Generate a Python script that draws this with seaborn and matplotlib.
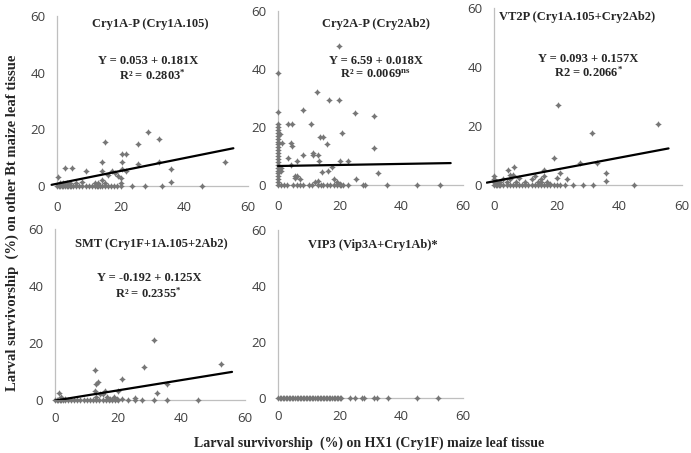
import matplotlib
matplotlib.use("Agg")
import matplotlib.pyplot as plt
import seaborn as sns
import pandas as pd

sns.set_style("white")
plt.rcParams["mathtext.default"] = "regular"

W, H = 691, 453

# ---------------- data ----------------
# Panel 1: Cry1A-P (Cry1A.105)
p1_x = [0, 0.5, 1, 1.5, 2, 2.5, 3, 3.5, 4, 4.5, 5, 6, 7, 8, 9, 10, 11, 12, 12.5, 13, 13.5, 14,
        15, 16, 17, 18, 19, 20, 23.5, 27.7, 32.9, 45.5,
        0.4, 1, 2, 3, 4, 6, 8, 12, 13, 14, 15, 20, 20,
        2.5, 4.8, 9, 14, 15, 14, 17.2, 18.2, 19.3, 20.3, 20.3, 21.7, 21.7, 25.6, 25.6,
        28.7, 31.9, 31.9, 35.8, 35.8, 52.8, 16, 20.3]
p1_y = [0] * 32 + [3.1, 1, 1, 1, 1, 1, 1.5, 1, 1, 2, 1, 1, 3,
        6.2, 6.2, 5.3, 8.4, 15.7, 5.3, 5.3, 4.5, 3.5, 8.4, 11.3, 11.3, 5.3, 14.7, 7.7,
        19, 16.6, 8.4, 6, 1.4, 8.4, 4, 6]

# Panel 2: Cry2A-P (Cry2Ab2)
p2_x = [0] * 24 + [
    0.7, 1.2, 3.4, 4.4, 4.2, 4.4, 3.4, 6, 8.2, 8.2, 10.7, 11.5, 11.5, 12.6, 13, 13.6, 14.7,
    15.8, 16.6, 17.4, 16.3, 19.9, 19.9, 20.7, 20, 22.8, 25, 25.3, 31.2, 31.2, 32.4, 14.2,
    13.4, 4.2, 1, 1, 5.5, 5.5, 6, 7, 12, 13, 19, 20, 18,
    1, 2, 3, 5, 6, 7, 8, 10, 11, 13, 14, 14.5, 16, 17, 18, 19, 20, 20.5, 21, 22.6, 27.7,
    28.3, 35.3, 45, 52.4]
p2_y = [0, 1, 2, 3, 4, 5, 6, 7, 8, 9, 10, 11, 12, 13, 14, 15, 16, 17, 18, 19, 20, 21, 25, 38.7] + [
    17.5, 14.4, 21, 21, 14.4, 13.5, 9.4, 8.4, 10.5, 25.9, 21, 11, 10.5, 32, 10.5, 16.7, 16.7,
    14, 29.3, 6.3, 4.9, 48, 29.3, 17.8, 8.4, 8.4, 24.9, 2, 23.8, 12.6, 4.2, 4.6,
    8.4, 7, 5, 6, 3, 2.5, 3, 2, 1, 1.5, 1, 0.5, 2] + [0] * 25

# Panel 3: VT2P (Cry1A.105+Cry2Ab2)
p3_x = [0, 0.5, 1, 1.5, 2, 3, 4, 5, 6, 7, 8, 9, 10, 11, 12, 13, 14, 15, 16, 17, 18, 19, 20,
        21, 22.7, 25.3, 28.3, 31.5, 44.8,
        0, 0, 0, 1, 2, 3, 4, 5, 5, 6, 7, 8, 10, 12, 13, 14, 15, 15, 16, 17, 18, 20,
        4.6, 6.5, 15.8, 19, 21, 23.2, 27.3, 31.4, 32.8, 35.6, 35.6, 52.3, 20.5]
p3_y = [0] * 29 + [3, 2, 1, 1, 1, 2, 1, 2, 3.5, 3.5, 1, 2.5, 1, 2, 3, 1, 1, 2, 3, 1, 0.5, 2.4,
                   5, 6.2, 5, 9.3, 4.2, 1.9, 7.3, 17.5, 7.3, 4.2, 1.4, 20.8, 27]

# Panel 4: SMT (Cry1F+1A.105+2Ab2)
p4_x = [0, 0.5, 1, 1.5, 2, 2.5, 3, 4, 5, 6, 7, 8, 9, 10, 11, 12, 13, 14, 15, 16, 17, 18, 19,
        20, 23.1, 25.2, 27.4, 31.3, 35.5, 45.2,
        1.4, 2, 3, 12.6, 13, 14.2, 15, 15.8, 16.5, 17.5, 18.5, 19.5, 20, 25.2, 21,
        12.6, 12.8, 13.7, 21, 28.2, 31.3, 32.3, 35.5, 52.4]
p4_y = [0] * 30 + [2.3, 1, 0.5, 3, 1, 2, 2, 3.2, 1, 0.5, 1, 0.5, 3.2, 0.7, 0.5,
                   10.5, 5.5, 6.2, 7.3, 11.7, 21, 2.3, 5.5, 12.5]

# Panel 5: VIP3 (Vip3A+Cry1Ab)*
p5_x = [0, 0.5, 1, 1.5, 2, 2.5, 3, 3.5, 4, 4.5, 5, 5.5, 6, 6.5, 7, 7.5, 8, 8.5, 9, 9.5, 10,
        10.5, 11, 11.5, 12, 12.5, 13, 13.5, 14, 14.5, 15, 15.5, 16, 16.5, 17, 17.5, 18, 18.5,
        19, 19.5, 20, 20.5, 23.2, 25, 27.4, 28, 31.2, 32, 35.6, 45, 52]
p5_y = [0] * len(p5_x)

# Trend lines as drawn in the picture: intercept, slope, x start, x end
line_a = [0.8, 6.55, 1.26, -0.2]
line_b = [0.226, 0.018, 0.2, 0.18]
line_x0 = [-1.7, 0, -2.3, 0]
line_x1 = [55.4, 56, 55.7, 55.9]

titles = ["Cry1A-P (Cry1A.105)", "Cry2A-P (Cry2Ab2)", "VT2P (Cry1A.105+Cry2Ab2)",
          "SMT (Cry1F+1A.105+2Ab2)", "VIP3 (Vip3A+Cry1Ab)*"]
equations = ["Y = 0.053 + 0.181X", "Y = 6.59 + 0.018X", "Y = 0.093 + 0.157X",
             "Y = -0.192 + 0.125X", None]
r2_texts = ["R² = 0.2803$^{*}$", "R² = 0.0069$^{ns}$", "R2 = 0.2066$^{*}$",
            "R² = 0.2355$^{*}$", None]
ticks = [0, 20, 40, 60]
tick_labels = ["0", "20", "40", "60"]
ylabel = "Larval survivorship  (%) on other Bt maize leaf tissue"
xlabel = "Larval survivorship  (%) on HX1 (Cry1F) maize leaf tissue"

# ---------------- layout (pixels) ----------------
# (x pixel of data 0, x pixel of data 60, y pixel of data 0, y pixel of data 60)
frames = [(57, 248, 186, 16), (278, 463, 185, 11), (494, 682, 185, 8),
          (55, 245, 400, 229), (278, 463, 398, 230)]
title_pos = [(150, 24), (376, 24), (577, 17), (151, 244), (373, 245)]
eq_pos = [(148, 61), (376, 61), (588, 59), (149, 278), None]
r2_pos = [(152, 75), (375, 75), (589, 72), (148, 293), None]
xpads = [7, 7, 7, 5, 5]

xs = [p1_x, p2_x, p3_x, p4_x, p5_x]
ys = [p1_y, p2_y, p3_y, p4_y, p5_y]

fig = plt.figure(figsize=(W / 100, H / 100), dpi=100)
serif = "Liberation Serif"
axis_col = "#bfbfbf"
marker_col = "#767676"
XMIN = -2.5

for i, (x0p, x60p, y0p, y60p) in enumerate(frames):
    ppu = (x60p - x0p) / 60.0
    left = x0p + XMIN * ppu
    ax = fig.add_axes([left / W, (H - y0p) / H, (x60p - left) / W, (y0p - y60p) / H])
    df = pd.DataFrame({"x": xs[i], "y": ys[i]})
    sns.scatterplot(data=df, x="x", y="y", ax=ax, marker=(4, 1, 0), s=14,
                    color=marker_col, edgecolor=marker_col, linewidth=0.6,
                    clip_on=False, zorder=3)
    if i < 4:
        lx = [line_x0[i], line_x1[i]]
        ly = [line_a[i] + line_b[i] * v for v in lx]
        sns.lineplot(x=lx, y=ly, ax=ax, color="black", linewidth=1.6, zorder=4)
    ax.set_xlim(XMIN, 60)
    ax.set_ylim(0, 60)
    ax.set_xticks(ticks)
    ax.set_xticklabels(tick_labels)
    ax.set_yticks(ticks)
    ax.set_yticklabels(tick_labels)
    ax.set_xlabel("")
    ax.set_ylabel("")
    for s in ["top", "right"]:
        ax.spines[s].set_visible(False)
    ax.spines["left"].set_position(("data", 0))
    ax.spines["bottom"].set_bounds(0, 60)
    for s in ["left", "bottom"]:
        ax.spines[s].set_color(axis_col)
        ax.spines[s].set_linewidth(0.9)
    ax.tick_params(axis="both", direction="out", length=3.5, width=0.9, color=axis_col,
                   labelcolor="#404040", labelsize=9.5)
    ax.tick_params(axis="x", pad=xpads[i])
    ax.tick_params(axis="y", pad=5)
    for lab in ax.get_xticklabels() + ax.get_yticklabels():
        lab.set_family("Open Sans")
    ax.patch.set_alpha(0)

    tx, ty = title_pos[i]
    fig.text(tx / W, 1 - ty / H, titles[i], ha="center", va="center",
             family=serif, weight="bold", fontsize=9)
    if equations[i]:
        ex, ey = eq_pos[i]
        fig.text(ex / W, 1 - ey / H, equations[i], ha="center", va="center",
                 family=serif, weight="bold", fontsize=9)
        rx, ry = r2_pos[i]
        fig.text(rx / W, 1 - ry / H, r2_texts[i], ha="center", va="center",
                 family=serif, weight="bold", fontsize=9)

fig.text(12 / W, 1 - 223 / H, ylabel, rotation=90, ha="center", va="center",
         family=serif, weight="bold", fontsize=10.5)
fig.text(369 / W, 1 - 443 / H, xlabel, ha="center", va="center",
         family=serif, weight="bold", fontsize=10)

fig.savefig("out.png", dpi=100)
